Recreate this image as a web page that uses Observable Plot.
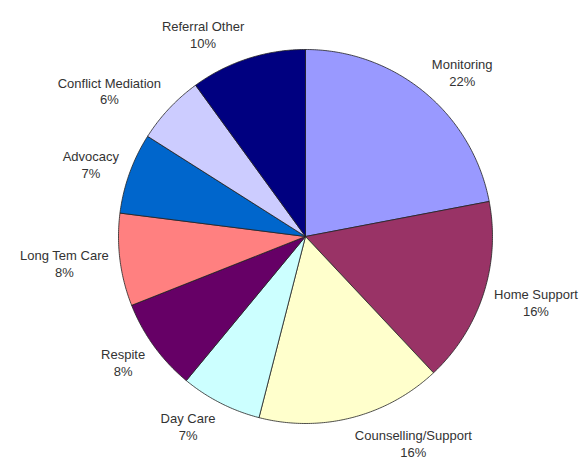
<!DOCTYPE html>
<html>
<head>
<meta charset="utf-8">
<script src="https://cdn.jsdelivr.net/npm/d3@7"></script>
<script src="https://cdn.jsdelivr.net/npm/@observablehq/plot@0.6"></script>
<style>
  html, body { margin: 0; padding: 0; background: #fff; }
  #chart svg { display: block; }
</style>
</head>
<body>
<div id="chart"></div>
<script>
const categories = ["Monitoring", "Home Support", "Counselling/Support", "Day Care", "Respite",
  "Long Tem Care", "Advocacy", "Conflict Mediation", "Referral Other"];
const percents = [22, 16, 16, 7, 8, 8, 7, 6, 10];
const colors = ["#9999FF", "#993366", "#FFFFCC", "#CCFFFF", "#660066",
  "#FF8080", "#0066CC", "#CCCCFF", "#000080"];

const W = 582, H = 459;
const cx = 305, cy = 236, R = 187;
const FONT = "Liberation Sans, Arial, sans-serif";
const FS = 13;

const slices = d3.pie().sort(null).value(d => d.value)(
  categories.map((c, i) => ({label: c, value: percents[i]}))
);

// polygon points for each slice, angles clockwise from top
const pts = [];
for (const s of slices) {
  const label = s.data.label;
  pts.push({label, x: 0, y: 0});
  const n = Math.max(4, Math.ceil((s.endAngle - s.startAngle) / 0.01));
  for (let k = 0; k <= n; k++) {
    const a = s.startAngle + (s.endAngle - s.startAngle) * k / n;
    pts.push({label, x: Math.sin(a), y: Math.cos(a)});
  }
  pts.push({label, x: 0, y: 0});
}

// text measuring for label box placement
const ctx = document.createElement("canvas").getContext("2d");
ctx.font = `${FS}px ${FONT}`;
const textW = s => ctx.measureText(s).width;

const labelR = 1.06, labelShift = 15 / R;
const labels = slices.map(s => {
  const m = (s.startAngle + s.endAngle) / 2;
  const sx = Math.sin(m), cyy = Math.cos(m);
  const pct = s.data.value + "%";
  const w = Math.max(textW(s.data.label), textW(pct));
  const side = sx >= 0 ? 1 : -1;
  return {
    text: s.data.label + "\n" + pct,
    x: labelR * sx + side * (w / 2) / R,
    y: labelR * cyy + cyy * labelShift
  };
});

const chart = Plot.plot({
  width: W, height: H,
  margin: 0,
  style: {background: "#fff", fontFamily: FONT},
  x: {domain: [-1, 1], range: [cx - R, cx + R], axis: null},
  y: {domain: [-1, 1], range: [cy + R, cy - R], axis: null},
  color: {domain: categories, range: colors, legend: false},
  marks: [
    Plot.line(pts, {x: "x", y: "y", z: "label", fill: "label",
      stroke: "#222", strokeWidth: 0.8, strokeLinejoin: "miter"}),
    Plot.text(labels, {
      x: "x", y: "y", text: "text", fontSize: FS, lineHeight: 1.3,
      fill: "#333", lineAnchor: "middle", textAnchor: "middle", fontFamily: FONT
    })
  ]
});
document.getElementById("chart").appendChild(chart);
</script>
</body>
</html>
